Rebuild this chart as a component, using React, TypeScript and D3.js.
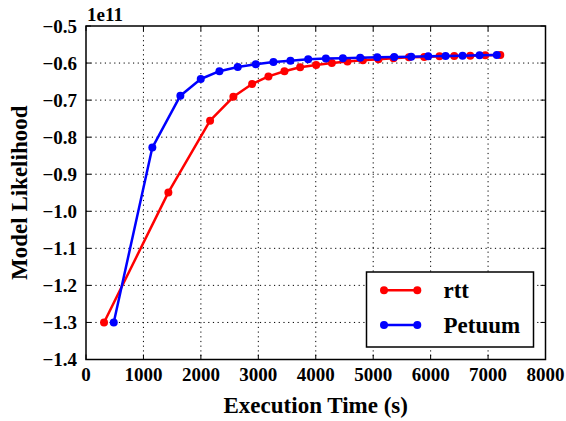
import React from "react";
import * as d3 from "d3";

const rttTime = [314, 1434, 2160, 2566, 2892, 3176, 3455, 3728, 4007, 4280, 4552, 4820, 5092, 5354, 5622, 5889, 6155, 6411, 6690, 6951, 7213];
const rttValue = [-1.30, -0.949, -0.7555, -0.691, -0.6565, -0.636, -0.622, -0.6115, -0.605, -0.600, -0.596, -0.5926, -0.590, -0.587, -0.5845, -0.5836, -0.5818, -0.581, -0.580, -0.579, -0.578];
const petuumTime = [483, 1155, 1643, 1998, 2323, 2642, 2956, 3263, 3559, 3868, 4176, 4472, 4774, 5070, 5366, 5662, 5958, 6260, 6556, 6852, 7152];
const petuumValue = [-1.30, -0.828, -0.688, -0.643, -0.622, -0.6106, -0.6035, -0.597, -0.5936, -0.590, -0.588, -0.587, -0.5855, -0.5845, -0.5836, -0.5828, -0.5818, -0.581, -0.580, -0.579, -0.578];

const xTicks = [0, 1000, 2000, 3000, 4000, 5000, 6000, 7000, 8000];
const yTicks = [-1.4, -1.3, -1.2, -1.1, -1.0, -0.9, -0.8, -0.7, -0.6, -0.5];

const seriesNames = ["rtt", "Petuum"];
const seriesColors = ["#ff0000", "#0000ff"];

const W = 566, H = 421;
const L = 86, R = 545.5, T = 26, B = 359.5;
const FONT = "'Liberation Serif', 'DejaVu Serif', serif";
const txt = { fontFamily: FONT, fontWeight: 700 as const };

export default function App() {
  const x = d3.scaleLinear().domain([0, 8000]).range([L, R]);
  const y = d3.scaleLinear().domain([-1.4, -0.5]).range([B, T]);
  const fmtY = (v: number) => (v < 0 ? "\u2212" : "") + Math.abs(v).toFixed(1);

  const series = [
    { name: seriesNames[0], color: seriesColors[0], pts: rttTime.map((t, i) => [t, rttValue[i]] as [number, number]) },
    { name: seriesNames[1], color: seriesColors[1], pts: petuumTime.map((t, i) => [t, petuumValue[i]] as [number, number]) },
  ];
  const line = d3.line<[number, number]>().x((d) => x(d[0])).y((d) => y(d[1]));

  const legX = 366.5, legY = 272, legW = 167, legH = 75;
  const legRows = [290.3, 325];

  return (
    <svg width={W} height={H} style={{ position: "absolute", left: 0, top: 0, background: "#fff" }}>
      <rect x={0} y={0} width={W} height={H} fill="#fff" />
      {xTicks.slice(1, -1).map((t) => (
        <line key={"gx" + t} x1={x(t)} x2={x(t)} y1={T} y2={B} stroke="#000" strokeWidth={1} strokeDasharray="1.2,3.5" />
      ))}
      {yTicks.slice(1, -1).map((t) => (
        <line key={"gy" + t} x1={L} x2={R} y1={y(t)} y2={y(t)} stroke="#000" strokeWidth={1} strokeDasharray="1.2,3.5" />
      ))}
      {xTicks.map((t) => (
        <g key={"tx" + t}>
          <line x1={x(t)} x2={x(t)} y1={B} y2={B - 5} stroke="#000" strokeWidth={1} />
          <line x1={x(t)} x2={x(t)} y1={T} y2={T + 5} stroke="#000" strokeWidth={1} />
          <text x={x(t)} y={381} textAnchor="middle" fontSize={19} style={txt}>{t}</text>
        </g>
      ))}
      {yTicks.map((t) => (
        <g key={"ty" + t}>
          <line x1={L} x2={L + 5} y1={y(t)} y2={y(t)} stroke="#000" strokeWidth={1} />
          <line x1={R} x2={R - 5} y1={y(t)} y2={y(t)} stroke="#000" strokeWidth={1} />
          <text x={77} y={y(t) + 6.5} textAnchor="end" fontSize={19} style={txt}>{fmtY(t)}</text>
        </g>
      ))}
      {series.map((s) => (
        <g key={s.name}>
          <path d={line(s.pts) || ""} fill="none" stroke={s.color} strokeWidth={2.5} strokeLinejoin="round" />
          {s.pts.map((p, i) => (
            <circle key={i} cx={x(p[0])} cy={y(p[1])} r={4} fill={s.color} />
          ))}
        </g>
      ))}
      <rect x={L} y={T} width={R - L} height={B - T} fill="none" stroke="#000" strokeWidth={1.5} />
      <text x={87} y={20.5} fontSize={19} style={txt}>1e11</text>
      <rect x={legX} y={legY} width={legW} height={legH} fill="#fff" stroke="#000" strokeWidth={1.5} />
      {series.map((s, i) => (
        <g key={"leg" + s.name}>
          <line x1={384} x2={417.3} y1={legRows[i]} y2={legRows[i]} stroke={s.color} strokeWidth={2.5} />
          <circle cx={384} cy={legRows[i]} r={4} fill={s.color} />
          <circle cx={417.3} cy={legRows[i]} r={4} fill={s.color} />
          <text x={443.5} y={legRows[i] + 8} fontSize={23} style={txt}>{s.name}</text>
        </g>
      ))}
      <text x={(L + R) / 2} y={412.5} textAnchor="middle" fontSize={23} style={txt}>Execution Time (s)</text>
      <text transform={`translate(27, ${(T + B) / 2}) rotate(-90)`} textAnchor="middle" fontSize={23} style={txt}>Model Likelihood</text>
    </svg>
  );
}
